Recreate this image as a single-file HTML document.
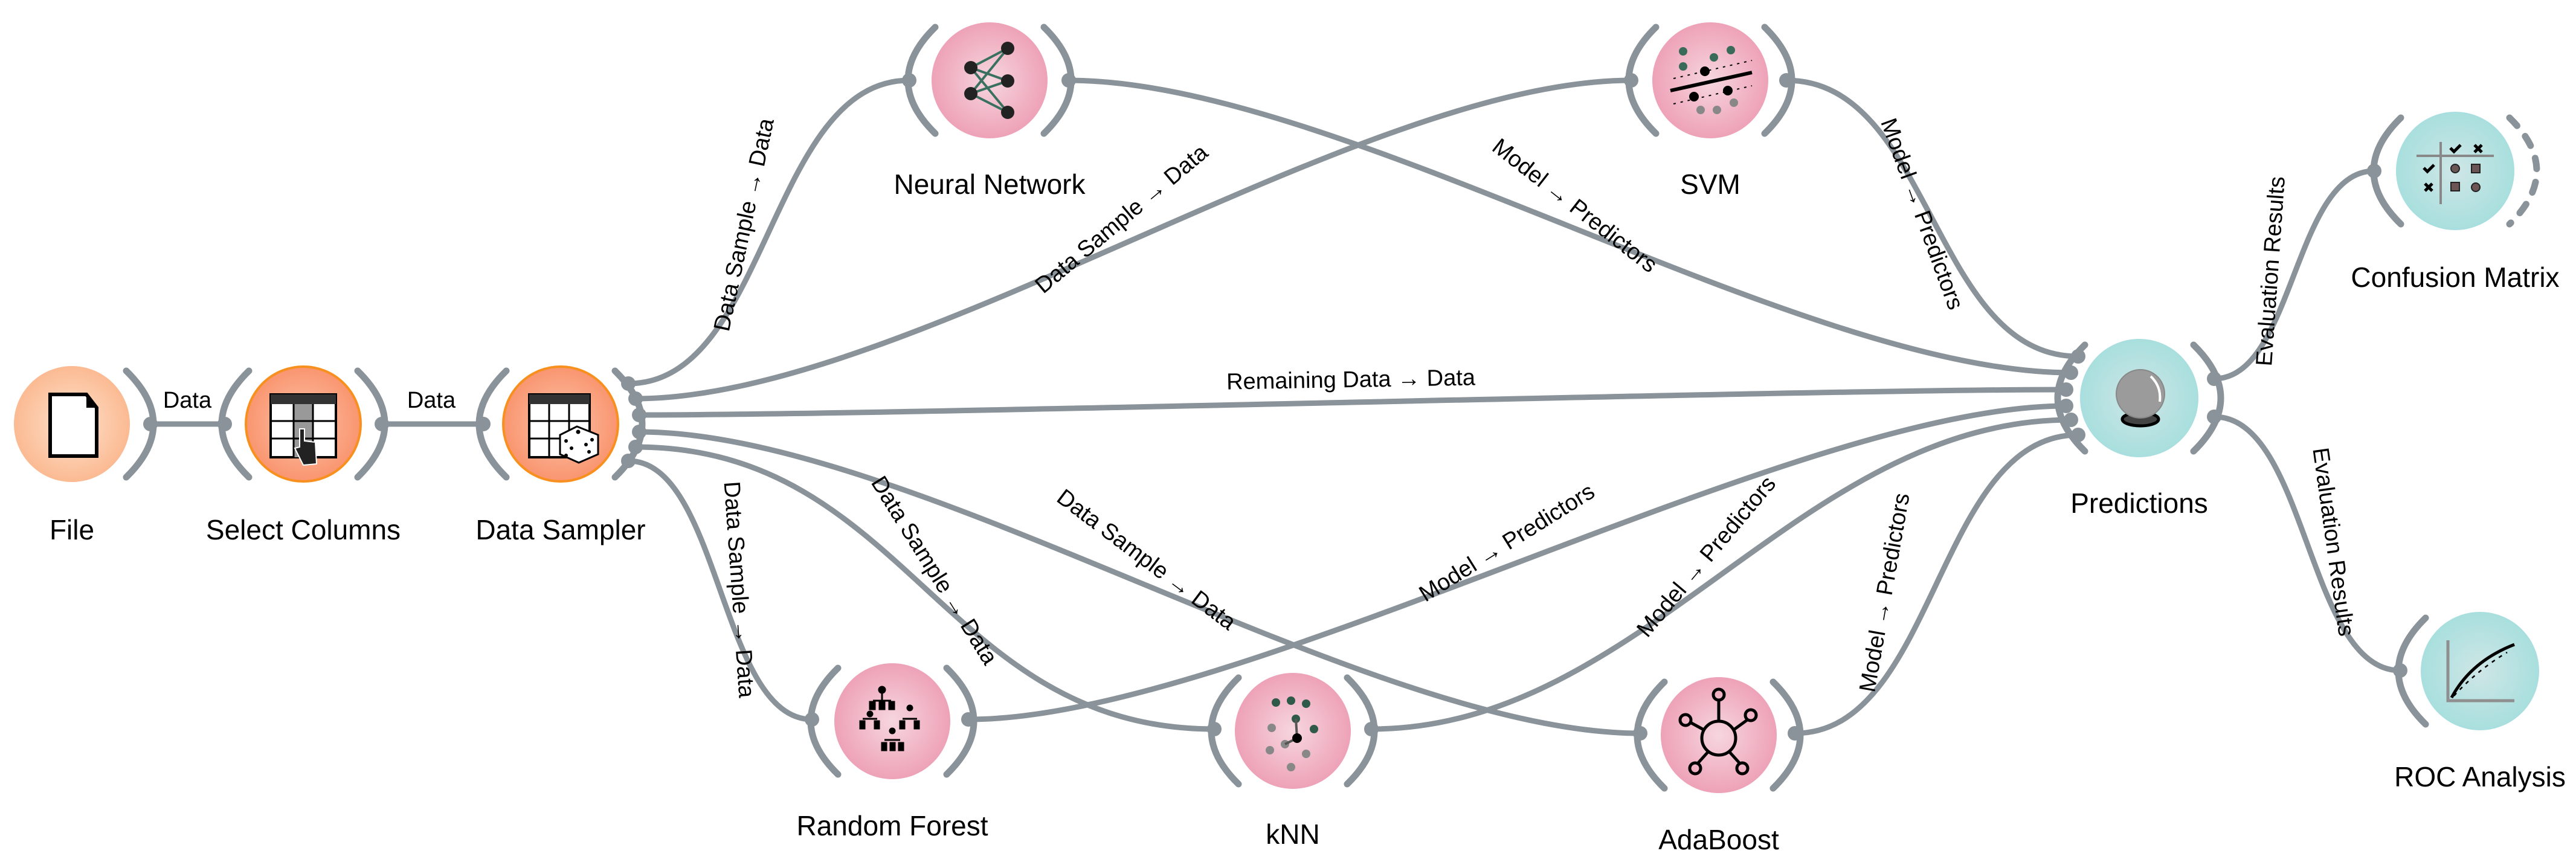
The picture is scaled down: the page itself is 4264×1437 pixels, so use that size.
<!DOCTYPE html>
<html><head><meta charset="utf-8"><style>
html,body{margin:0;padding:0;background:#fff;}
svg{display:block;}
text{font-family:"Liberation Sans",sans-serif;fill:#000;}
.nl{font-size:46px;text-anchor:middle;}
.el{font-size:38px;text-anchor:middle;}
.lk{fill:none;stroke:#8a9399;stroke-width:9;stroke-linecap:round;}
.br{fill:none;stroke:#8a9399;stroke-width:11;stroke-linecap:round;}
.dt{fill:#8a9399;}
</style></head><body>
<svg width="4264" height="1437" viewBox="0 0 4264 1437" xmlns="http://www.w3.org/2000/svg">
<defs>
<radialGradient id="gFile" cx="50%" cy="50%" r="50%"><stop offset="0" stop-color="#fde3cf"/><stop offset="1" stop-color="#fbba92"/></radialGradient>
<radialGradient id="gOr" cx="50%" cy="50%" r="50%"><stop offset="0" stop-color="#fcc3ab"/><stop offset="1" stop-color="#f9956f"/></radialGradient>
<radialGradient id="gPk" cx="50%" cy="50%" r="50%"><stop offset="0" stop-color="#f6d6df"/><stop offset="1" stop-color="#eea2b7"/></radialGradient>
<radialGradient id="gTl" cx="50%" cy="50%" r="50%"><stop offset="0" stop-color="#cfe6e6"/><stop offset="1" stop-color="#a8dfde"/></radialGradient>
</defs>

<!-- links -->
<path class="lk" d="M249 702 L372 702"/>
<path class="lk" d="M632 702 L800 702"/>
<path class="lk" d="M1040 635 C1272 635 1273 133 1505 133"/>
<path class="lk" d="M1052 660 C1502 660 2250 133 2700 133"/>
<path class="lk" d="M1058 687 C1508 687 2970 645 3420 645"/>
<path class="lk" d="M1058 715 C1508 715 2265 1214 2715 1214"/>
<path class="lk" d="M1052 740 C1502 740 1560 1207 2010 1207"/>
<path class="lk" d="M1040 763 C1192 763 1192 1191 1344 1191"/>
<path class="lk" d="M1769 133 C2219 133 2978 617 3428 617"/>
<path class="lk" d="M2957 133 C3198 133 3198 590 3440 590"/>
<path class="lk" d="M1603 1191 C2053 1191 2970 672 3420 672"/>
<path class="lk" d="M2270 1207 C2720 1207 2978 695 3428 695"/>
<path class="lk" d="M2971 1214 C3205 1214 3205 720 3440 720"/>
<path class="lk" d="M3665 627 C3797 627 3797 283 3930 283"/>
<path class="lk" d="M3665 690 C3819 690 3819 1110 3973 1110"/>

<!-- brackets -->
<path class="br" d="M209 614 Q299 702 209 790"/>
<path class="br" d="M412 614 Q322 702 412 790"/><path class="br" d="M592 614 Q682 702 592 790"/>
<path class="br" d="M838 614 Q748 702 838 790"/><path class="br" d="M1018 614 Q1108 702 1018 790"/>
<path class="br" d="M1548 45 Q1458 133 1548 221"/><path class="br" d="M1728 45 Q1818 133 1728 221"/>
<path class="br" d="M2741 45 Q2651 133 2741 221"/><path class="br" d="M2921 45 Q3011 133 2921 221"/>
<path class="br" d="M1387 1106 Q1297 1194 1387 1282"/><path class="br" d="M1567 1106 Q1657 1194 1567 1282"/>
<path class="br" d="M2050 1122 Q1960 1210 2050 1298"/><path class="br" d="M2230 1122 Q2320 1210 2230 1298"/>
<path class="br" d="M2755 1129 Q2665 1217 2755 1305"/><path class="br" d="M2935 1129 Q3025 1217 2935 1305"/>
<path class="br" d="M3451 571 Q3361 659 3451 747"/><path class="br" d="M3631 571 Q3721 659 3631 747"/>
<path class="br" d="M3974 195 Q3884 283 3974 371"/><path class="br" d="M4154 195 Q4244 283 4154 371" stroke-dasharray="18 22" stroke="#a9b0b4"/>
<path class="br" d="M4015 1023 Q3925 1111 4015 1199"/>

<!-- port dots -->
<g class="dt">
<circle cx="249" cy="702" r="12"/><circle cx="372" cy="702" r="12"/><circle cx="632" cy="702" r="12"/><circle cx="800" cy="702" r="12"/>
<circle cx="1040" cy="635" r="12"/><circle cx="1052" cy="660" r="12"/><circle cx="1058" cy="687" r="12"/><circle cx="1058" cy="715" r="12"/><circle cx="1052" cy="740" r="12"/><circle cx="1040" cy="763" r="12"/>
<circle cx="1505" cy="133" r="12"/><circle cx="1769" cy="133" r="12"/><circle cx="2700" cy="133" r="12"/><circle cx="2957" cy="133" r="12"/>
<circle cx="1344" cy="1191" r="12"/><circle cx="1603" cy="1191" r="12"/><circle cx="2010" cy="1207" r="12"/><circle cx="2270" cy="1207" r="12"/><circle cx="2715" cy="1214" r="12"/><circle cx="2971" cy="1214" r="12"/>
<circle cx="3440" cy="590" r="12"/><circle cx="3428" cy="617" r="12"/><circle cx="3420" cy="645" r="12"/><circle cx="3420" cy="672" r="12"/><circle cx="3428" cy="695" r="12"/><circle cx="3440" cy="720" r="12"/>
<circle cx="3665" cy="627" r="12"/><circle cx="3665" cy="690" r="12"/><circle cx="3930" cy="283" r="12"/><circle cx="3973" cy="1110" r="12"/>
</g>

<!-- nodes -->
<circle cx="119" cy="702" r="96" fill="url(#gFile)"/>
<circle cx="502" cy="702" r="95" fill="url(#gOr)" stroke="#f7901e" stroke-width="4"/>
<circle cx="928" cy="702" r="95" fill="url(#gOr)" stroke="#f7901e" stroke-width="4"/>
<circle cx="1638" cy="133" r="96" fill="url(#gPk)"/>
<circle cx="2831" cy="133" r="96" fill="url(#gPk)"/>
<circle cx="1477" cy="1194" r="96" fill="url(#gPk)"/>
<circle cx="2140" cy="1210" r="96" fill="url(#gPk)"/>
<circle cx="2845" cy="1217" r="96" fill="url(#gPk)"/>
<circle cx="3541" cy="659" r="98" fill="url(#gTl)"/>
<circle cx="4064" cy="283" r="98" fill="url(#gTl)"/>
<circle cx="4105" cy="1111" r="98" fill="url(#gTl)"/>

<!-- icons -->
<path d="M83 653 L143 653 L160 675 L160 755 L83 755 Z" fill="#fff" stroke="#000" stroke-width="6"/>
<path d="M143 653 L143 675 L160 675 Z" fill="#000"/>
<rect x="448" y="653" width="108" height="104" fill="#fff" stroke="#000" stroke-width="4"/>
<rect x="448" y="653" width="108" height="16" fill="#333"/>
<rect x="486" y="669" width="32" height="88" fill="#999"/>
<g stroke="#000" stroke-width="3"><line x1="486" y1="669" x2="486" y2="757"/><line x1="518" y1="669" x2="518" y2="757"/><line x1="448" y1="697" x2="556" y2="697"/><line x1="448" y1="726" x2="556" y2="726"/></g>
<path d="M496 710 L504 710 L504 730 L522 732 L524 768 L502 770 L488 742 L496 740 Z" fill="#222" stroke="#fff" stroke-width="2"/>
<rect x="876" y="653" width="100" height="104" fill="#fff" stroke="#000" stroke-width="4"/>
<rect x="876" y="653" width="100" height="16" fill="#333"/>
<g stroke="#000" stroke-width="3"><line x1="909" y1="669" x2="909" y2="757"/><line x1="942" y1="669" x2="942" y2="757"/><line x1="876" y1="697" x2="976" y2="697"/><line x1="876" y1="726" x2="976" y2="726"/></g>
<path d="M927 720 L955 706 L990 720 L990 752 L958 766 L927 752 Z" fill="#fff" stroke="#000" stroke-width="3"/>
<g fill="#000"><circle cx="957" cy="715" r="3.5"/><circle cx="937" cy="730" r="3"/><circle cx="946" cy="742" r="3"/><circle cx="937" cy="754" r="3"/><circle cx="970" cy="736" r="3"/><circle cx="980" cy="728" r="3"/><circle cx="975" cy="748" r="3"/></g>
<g stroke="#3a7060" stroke-width="4"><line x1="1607" y1="112" x2="1668" y2="80"/><line x1="1607" y1="112" x2="1668" y2="134"/><line x1="1607" y1="112" x2="1668" y2="186"/><line x1="1607" y1="155" x2="1668" y2="80"/><line x1="1607" y1="155" x2="1668" y2="134"/><line x1="1607" y1="155" x2="1668" y2="186"/></g>
<g fill="#222"><circle cx="1607" cy="112" r="11"/><circle cx="1607" cy="155" r="11"/><circle cx="1668" cy="80" r="11"/><circle cx="1668" cy="134" r="11"/><circle cx="1668" cy="186" r="11"/></g>
<line x1="2765" y1="150" x2="2900" y2="120" stroke="#000" stroke-width="6"/>
<line x1="2770" y1="130" x2="2900" y2="100" stroke="#000" stroke-width="2" stroke-dasharray="4 8"/>
<line x1="2770" y1="172" x2="2900" y2="142" stroke="#000" stroke-width="2" stroke-dasharray="4 8"/>
<g fill="#3a6b5a"><circle cx="2786" cy="85" r="7"/><circle cx="2786" cy="110" r="7"/><circle cx="2837" cy="95" r="7"/><circle cx="2865" cy="83" r="7"/></g>
<g fill="#000"><circle cx="2822" cy="118" r="8"/><circle cx="2804" cy="160" r="8"/><circle cx="2860" cy="150" r="8"/></g>
<g fill="#888"><circle cx="2815" cy="182" r="7"/><circle cx="2842" cy="182" r="7"/><circle cx="2870" cy="170" r="7"/></g>
<g fill="#000" stroke="#000" stroke-width="3">
<circle cx="1460" cy="1142" r="5"/><line x1="1460" y1="1142" x2="1460" y2="1162"/><line x1="1445" y1="1160" x2="1475" y2="1160"/>
<rect x="1440" y="1162" width="8" height="12"/><rect x="1456" y="1162" width="8" height="12"/><rect x="1472" y="1162" width="8" height="12"/>
<circle cx="1440" cy="1182" r="4"/><line x1="1428" y1="1190" x2="1452" y2="1190"/><rect x="1424" y="1194" width="7" height="12"/><rect x="1448" y="1194" width="7" height="12"/>
<circle cx="1506" cy="1172" r="4"/><line x1="1494" y1="1190" x2="1518" y2="1190"/><rect x="1490" y="1194" width="7" height="12"/><rect x="1514" y="1194" width="7" height="12"/>
<circle cx="1477" cy="1210" r="4"/><line x1="1464" y1="1225" x2="1490" y2="1225"/><rect x="1460" y="1230" width="7" height="12"/><rect x="1474" y="1230" width="7" height="12"/><rect x="1488" y="1230" width="7" height="12"/>
</g>
<g fill="#2f5a4a"><circle cx="2112" cy="1163" r="7"/><circle cx="2137" cy="1160" r="7"/><circle cx="2162" cy="1165" r="7"/><circle cx="2145" cy="1190" r="7"/><circle cx="2175" cy="1207" r="7"/></g>
<g fill="#888"><circle cx="2105" cy="1205" r="7"/><circle cx="2102" cy="1242" r="7"/><circle cx="2127" cy="1232" r="7"/><circle cx="2162" cy="1248" r="7"/><circle cx="2137" cy="1270" r="7"/></g>
<line x1="2145" y1="1190" x2="2147" y2="1222" stroke="#555" stroke-width="4"/><line x1="2127" y1="1232" x2="2147" y2="1222" stroke="#555" stroke-width="4"/>
<circle cx="2147" cy="1222" r="8" fill="#000"/>
<g fill="none" stroke="#000" stroke-width="5">
<circle cx="2845" cy="1222" r="28"/>
<line x1="2845" y1="1194" x2="2845" y2="1158"/><circle cx="2845" cy="1150" r="9"/>
<line x1="2870" y1="1208" x2="2892" y2="1192"/><circle cx="2898" cy="1184" r="9"/>
<line x1="2820" y1="1208" x2="2798" y2="1196"/><circle cx="2790" cy="1192" r="9"/>
<line x1="2828" y1="1244" x2="2810" y2="1264"/><circle cx="2806" cy="1272" r="9"/>
<line x1="2862" y1="1244" x2="2880" y2="1264"/><circle cx="2884" cy="1272" r="9"/>
</g>
<ellipse cx="3543" cy="694" rx="30" ry="11" fill="#444" stroke="#000" stroke-width="5"/>
<circle cx="3543" cy="652" r="40" fill="#9b9b9b" stroke="#888" stroke-width="2"/>
<path d="M3560 623 Q3578 640 3575 665" fill="none" stroke="#fff" stroke-width="4"/>
<g stroke="#888" stroke-width="4"><line x1="4000" y1="258" x2="4128" y2="258"/><line x1="4040" y1="235" x2="4040" y2="338"/></g>
<g stroke="#000" stroke-width="5" fill="none">
<path d="M4056 245 L4062 251 L4073 240"/><path d="M4012 278 L4018 284 L4029 273"/>
<path d="M4096 240 L4108 252 M4108 240 L4096 252"/><path d="M4014 304 L4026 316 M4026 304 L4014 316"/>
</g>
<g fill="#6b5555" stroke="#222" stroke-width="2"><circle cx="4064" cy="279" r="7"/><rect x="4091" y="272" width="14" height="14"/><rect x="4057" y="302" width="14" height="14"/><circle cx="4098" cy="310" r="7"/></g>
<path d="M4052 1060 L4052 1160 L4162 1160" fill="none" stroke="#8f8f8f" stroke-width="5"/>
<path d="M4058 1155 Q4090 1095 4162 1067" fill="none" stroke="#000" stroke-width="5"/>
<path d="M4062 1152 Q4100 1110 4150 1080" fill="none" stroke="#000" stroke-width="2.5" stroke-dasharray="6 8"/>

<!-- node labels -->
<text class="nl" x="119" y="893">File</text>
<text class="nl" x="502" y="893">Select Columns</text>
<text class="nl" x="928" y="893">Data Sampler</text>
<text class="nl" x="1638" y="321">Neural Network</text>
<text class="nl" x="2831" y="321">SVM</text>
<text class="nl" x="3541" y="849">Predictions</text>
<text class="nl" x="4064" y="475">Confusion Matrix</text>
<text class="nl" x="4105" y="1302">ROC Analysis</text>
<text class="nl" x="1477" y="1383">Random Forest</text>
<text class="nl" x="2140" y="1397">kNN</text>
<text class="nl" x="2845" y="1406">AdaBoost</text>

<!-- edge labels -->
<text class="el" x="310" y="675">Data</text>
<text class="el" x="714" y="675">Data</text>
<text class="el" transform="translate(1231,372) rotate(-78)" y="13">Data Sample → Data</text>
<text class="el" transform="translate(1856,362) rotate(-40)" y="13">Data Sample → Data</text>
<text class="el" transform="translate(2236,628) rotate(-1)" y="13">Remaining Data → Data</text>
<text class="el" transform="translate(1898,926) rotate(37)" y="13">Data Sample → Data</text>
<text class="el" transform="translate(1547,944) rotate(58)" y="13">Data Sample → Data</text>
<text class="el" transform="translate(1224,976) rotate(86)" y="13">Data Sample → Data</text>
<text class="el" transform="translate(2607,340) rotate(38)" y="13">Model → Predictors</text>
<text class="el" transform="translate(3182,354) rotate(70)" y="13">Model → Predictors</text>
<text class="el" transform="translate(2494,898) rotate(-32)" y="13">Model → Predictors</text>
<text class="el" transform="translate(2824,921) rotate(-50)" y="13">Model → Predictors</text>
<text class="el" transform="translate(3119,981) rotate(-80)" y="13">Model → Predictors</text>
<text class="el" transform="translate(3758,449) rotate(-86)" y="13">Evaluation Results</text>
<text class="el" transform="translate(3863,897) rotate(82)" y="13">Evaluation Results</text>
</svg>
</body></html>
